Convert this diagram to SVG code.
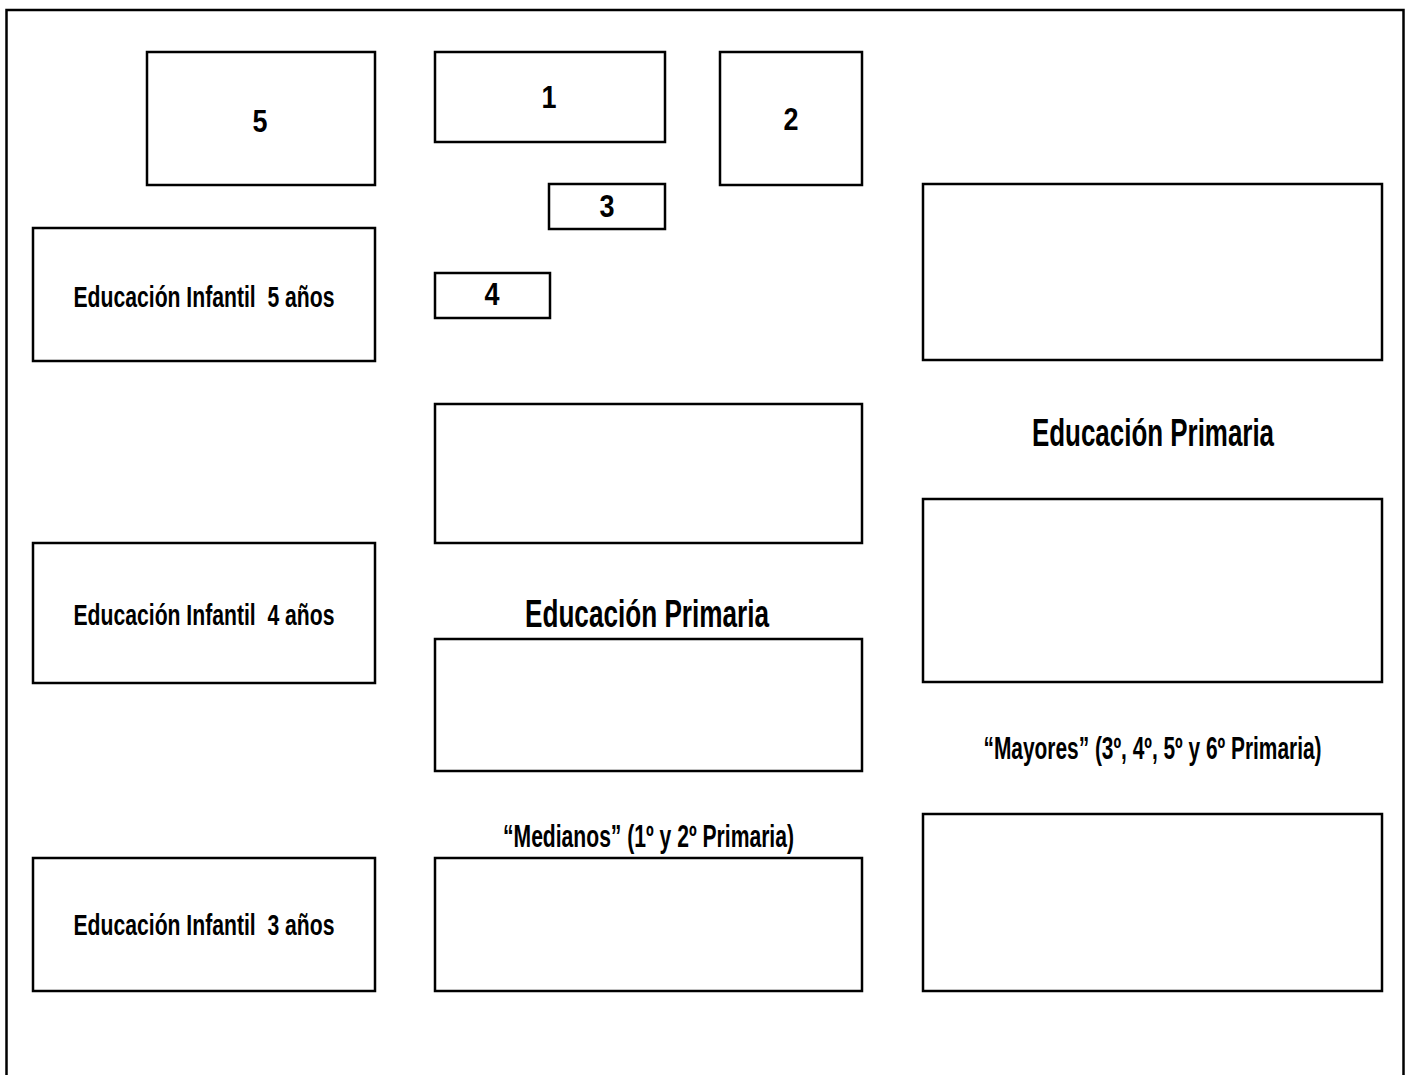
<svg xmlns="http://www.w3.org/2000/svg" width="1411" height="1075" viewBox="0 0 1411 1075">
<style>
.box{fill:#fff;stroke:#000;stroke-width:2.5}
.frame{fill:none;stroke:#000;stroke-width:2.5}
text{font-family:"Liberation Sans Narrow","Arial Narrow","Liberation Sans",Arial,sans-serif;font-weight:bold;fill:#000;text-anchor:middle;white-space:pre}
.num{font-size:31px}
.ei{font-size:30px}
.big{font-size:39px}
.sub{font-size:31px}
</style>
<rect width="1411" height="1075" fill="#fff"/>
<rect class="frame" x="6.5" y="10" width="1397" height="1100"/>
<g id="connectors"/>
<g id="n5"><rect class="box" x="147" y="52" width="228" height="133"/><text class="num" x="260" y="132" textLength="15" lengthAdjust="spacingAndGlyphs">5</text></g>
<g id="n1"><rect class="box" x="435" y="52" width="230" height="90"/><text class="num" x="549" y="108" textLength="15" lengthAdjust="spacingAndGlyphs">1</text></g>
<g id="n2"><rect class="box" x="720" y="52" width="142" height="133"/><text class="num" x="791" y="130" textLength="15" lengthAdjust="spacingAndGlyphs">2</text></g>
<g id="n3"><rect class="box" x="549" y="184" width="116" height="45"/><text class="num" x="607" y="217" textLength="15" lengthAdjust="spacingAndGlyphs">3</text></g>
<g id="n4"><rect class="box" x="435" y="273" width="115" height="45"/><text class="num" x="492" y="305" textLength="15" lengthAdjust="spacingAndGlyphs">4</text></g>
<g id="ei5"><rect class="box" x="33" y="228" width="342" height="133"/><text class="ei" x="204" y="307" textLength="261" lengthAdjust="spacingAndGlyphs">Educación Infantil  5 años</text></g>
<g id="ei4"><rect class="box" x="33" y="543" width="342" height="140"/><text class="ei" x="204" y="625" textLength="261" lengthAdjust="spacingAndGlyphs">Educación Infantil  4 años</text></g>
<g id="ei3"><rect class="box" x="33" y="858" width="342" height="133"/><text class="ei" x="204" y="935" textLength="261" lengthAdjust="spacingAndGlyphs">Educación Infantil  3 años</text></g>
<g id="mid-top"><rect class="box" x="435" y="404" width="427" height="139"/></g>
<g id="mid-primaria-label"><text class="big" x="647" y="627" textLength="244" lengthAdjust="spacingAndGlyphs">Educación Primaria</text></g>
<g id="mid-middle"><rect class="box" x="435" y="639" width="427" height="132"/></g>
<g id="medianos-label"><text class="sub" x="648.5" y="847" textLength="291" lengthAdjust="spacingAndGlyphs">“Medianos” (1º y 2º Primaria)</text></g>
<g id="mid-bottom"><rect class="box" x="435" y="858" width="427" height="133"/></g>
<g id="right-top"><rect class="box" x="923" y="184" width="459" height="176"/></g>
<g id="right-primaria-label"><text class="big" x="1153" y="446" textLength="242" lengthAdjust="spacingAndGlyphs">Educación Primaria</text></g>
<g id="right-middle"><rect class="box" x="923" y="499" width="459" height="183"/></g>
<g id="mayores-label"><text class="sub" x="1152.5" y="759" textLength="338" lengthAdjust="spacingAndGlyphs">“Mayores” (3º, 4º, 5º y 6º Primaria)</text></g>
<g id="right-bottom"><rect class="box" x="923" y="814" width="459" height="177"/></g>
</svg>
